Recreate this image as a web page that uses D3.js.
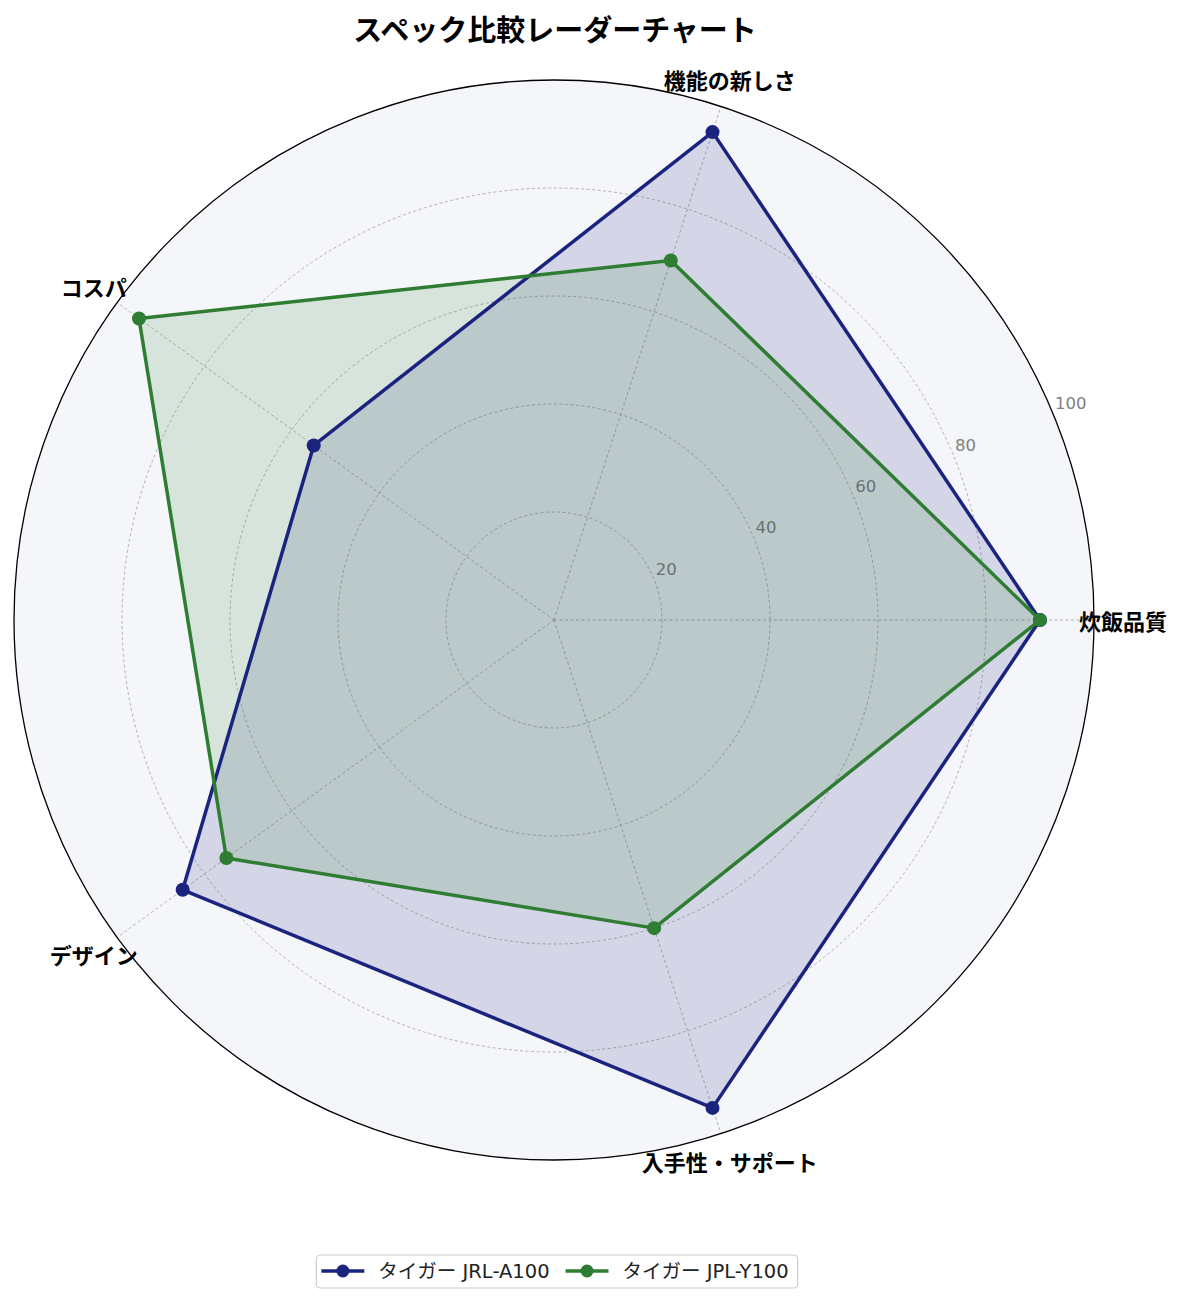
<!DOCTYPE html>
<html>
<head>
<meta charset="utf-8">
<script src="https://cdn.jsdelivr.net/npm/d3@7"></script>
<style>
  body { margin: 0; background: #fff; }
  text { font-family: "Noto Sans CJK JP", "Noto Sans", sans-serif; }
  .latin { font-family: "DejaVu Sans", "Noto Sans CJK JP", sans-serif; }
</style>
</head>
<body>
<div id="chart"></div>
<script>
// Radar chart data
const categories = ['炊飯品質', '機能の新しさ', 'コスパ', 'デザイン', '入手性・サポート'];
const seriesNames = ['タイガー JRL-A100', 'タイガー JPL-Y100'];
const jrlValues = [90, 95, 55, 85, 95];
const jplValues = [90, 70, 95, 75, 60];
const rTicks = [20, 40, 60, 80, 100];

const colors = ['#1a237e', '#2e7d32'];
const series = [jrlValues, jplValues];

const width = 1185, height = 1304;
const cx = 554, cy = 620, R = 540;

const svg = d3.select('#chart').append('svg')
    .attr('width', width)
    .attr('height', height);

const rScale = d3.scaleLinear().domain([0, 100]).range([0, R]);

// angle per category, counterclockwise from east (matplotlib style)
const theta = i => i * 2 * Math.PI / categories.length;
const px = (i, v) => cx + rScale(v) * Math.cos(theta(i));
const py = (i, v) => cy - rScale(v) * Math.sin(theta(i));

const g = svg.append('g');

// Polar background
g.append('circle')
    .attr('cx', cx).attr('cy', cy).attr('r', R)
    .attr('fill', '#f5f6fa');

// Grid circles
g.selectAll('.grid-circle')
    .data(rTicks.filter(d => d < 100))
    .enter()
    .append('circle')
    .attr('cx', cx).attr('cy', cy)
    .attr('r', d => rScale(d))
    .attr('fill', 'none')
    .attr('stroke', '#a0a0a0')
    .attr('stroke-width', 0.8)
    .attr('stroke-dasharray', '3,2.5');

// Spokes
g.selectAll('.spoke')
    .data(categories)
    .enter()
    .append('line')
    .attr('x1', cx).attr('y1', cy)
    .attr('x2', (d, i) => px(i, 100))
    .attr('y2', (d, i) => py(i, 100))
    .attr('stroke', '#a0a0a0')
    .attr('stroke-width', 0.8)
    .attr('stroke-dasharray', '3,2.5');

// Radial tick labels at 22.5deg
const labelAngle = 22.5 * Math.PI / 180;
g.selectAll('.r-label')
    .data(rTicks)
    .enter()
    .append('text')
    .attr('class', 'latin')
    .attr('x', d => cx + rScale(d) * Math.cos(labelAngle) + 2)
    .attr('y', d => cy - rScale(d) * Math.sin(labelAngle) - 4)
    .attr('fill', '#808080')
    .attr('font-size', '16.5px')
    .text(d => d);

// Series polygons
const line = d3.lineRadial()
    .angle((d, i) => Math.PI / 2 - theta(i))
    .radius(d => rScale(d))
    .curve(d3.curveLinearClosed);

series.forEach((vals, s) => {
    const sg = g.append('g').attr('transform', `translate(${cx},${cy})`);
    sg.append('path')
        .attr('d', line(vals))
        .attr('fill', colors[s])
        .attr('fill-opacity', 0.15)
        .attr('stroke', 'none');
});

series.forEach((vals, s) => {
    const sg = g.append('g').attr('transform', `translate(${cx},${cy})`);
    sg.append('path')
        .attr('d', line(vals))
        .attr('fill', 'none')
        .attr('stroke', colors[s])
        .attr('stroke-width', 3.5)
        .attr('stroke-linejoin', 'round');
    g.selectAll(null)
        .data(vals)
        .enter()
        .append('circle')
        .attr('cx', (d, i) => px(i, d))
        .attr('cy', (d, i) => py(i, d))
        .attr('r', 7)
        .attr('fill', colors[s]);
});

// Category labels
g.selectAll('.cat-label')
    .data(categories)
    .enter()
    .append('text')
    .attr('x', (d, i) => cx + 569 * Math.cos(theta(i)))
    .attr('y', (d, i) => cy - 569 * Math.sin(theta(i)))
    .attr('text-anchor', 'middle')
    .attr('dominant-baseline', 'central')
    .attr('font-size', '22px')
    .attr('font-weight', 'bold')
    .attr('fill', '#000')
    .text(d => d);

// Outer spine
g.append('circle')
    .attr('cx', cx).attr('cy', cy).attr('r', R)
    .attr('fill', 'none')
    .attr('stroke', '#000')
    .attr('stroke-width', 1.3);

// Title
svg.append('text')
    .attr('x', 555)
    .attr('y', 28)
    .attr('text-anchor', 'middle')
    .attr('dominant-baseline', 'central')
    .attr('font-size', '29px')
    .attr('font-weight', 'bold')
    .text('スペック比較レーダーチャート');

// Legend
const legend = svg.append('g');
const legendY = 1271;
const box = legend.append('rect')
    .attr('fill', '#fff')
    .attr('stroke', '#cccccc')
    .attr('stroke-width', 1.2)
    .attr('rx', 4);

let xPos = 0;
seriesNames.forEach((name, s) => {
    const item = legend.append('g');
    item.append('line')
        .attr('x1', xPos).attr('x2', xPos + 43)
        .attr('y1', legendY).attr('y2', legendY)
        .attr('stroke', colors[s])
        .attr('stroke-width', 3.5);
    item.append('circle')
        .attr('cx', xPos + 21.5).attr('cy', legendY)
        .attr('r', 6.5)
        .attr('fill', colors[s]);
    const t = item.append('text')
        .attr('class', 'latin')
        .attr('x', xPos + 57)
        .attr('y', legendY)
        .attr('dominant-baseline', 'central')
        .attr('font-size', '19.5px')
        .attr('fill', '#222')
        .text(name);
    xPos += 57 + t.node().getComputedTextLength() + 16;
});
const totalW = xPos - 16;
const startX = 555 - totalW / 2;
legend.selectAll('g').attr('transform', `translate(${startX},0)`);
box.attr('x', startX - 5).attr('y', legendY - 16)
    .attr('width', totalW + 14).attr('height', 33);
</script>
</body>
</html>
